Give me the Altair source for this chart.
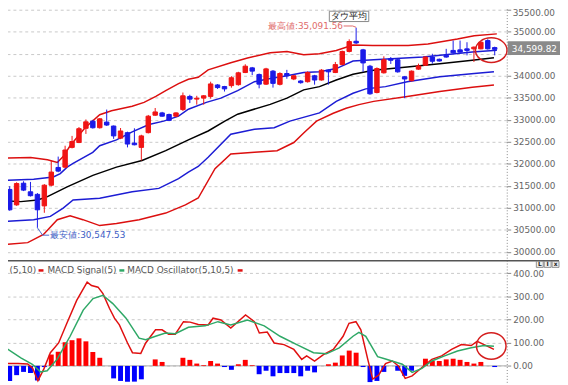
import altair as alt
import pandas as pd

# ---------------- price candles (Dow average, daily) ----------------
OPEN = [31419, 31068, 31560, 31365, 31307, 31045, 31515, 31918, 31925, 32373,
        32484, 32807, 32970, 32820, 32948, 32858, 32583, 32708, 32471, 32373,
        32708, 33104, 33156, 33120, 33082, 33232, 33530, 33470, 33492, 33530,
        33791, 33755, 33776, 33798, 34073, 34179, 34029, 33809, 34105, 33805,
        34051, 33926, 33881, 33865, 34000, 33903, 34127, 34073, 34253, 34552,
        34783, 34588, 34217, 33619, 34067, 34387, 34364, 33977, 33888, 34150,
        34239, 34425, 34373, 34463, 34575, 34588, 34611, 34611, 34611, 34799,
        34640]
HIGH = [31493, 31582, 31605, 31589, 31336, 31540, 32075, 32164, 32411, 32634,
        32836, 33008, 33000, 33040, 33232, 32870, 32813, 32730, 32807, 32660,
        33110, 33268, 33180, 33140, 33170, 33619, 33568, 33545, 33560, 33865,
        33810, 33770, 33990, 34090, 34261, 34200, 34050, 34180, 34130, 34080,
        34134, 34020, 33900, 34100, 34020, 34150, 34145, 34313, 34570, 34828,
        35091.56, 34610, 34246, 34190, 34441, 34425, 34380, 33990, 34120, 34275,
        34440, 34499, 34390, 34611, 34799, 34799, 34761, 34665, 34780, 34830,
        34660]
LOW = [30934, 31046, 31381, 31258, 30547.53, 30889, 31490, 31810, 31900, 32350,
       32470, 32679, 32800, 32800, 32860, 32567, 32560, 32373, 32420, 32075,
       32690, 33090, 33070, 32970, 33060, 33200, 33380, 33344, 33344, 33480,
       33700, 33642, 33730, 33775, 34060, 34015, 33715, 33790, 33731, 33780,
       33932, 33900, 33820, 33845, 33798, 33890, 33798, 34060, 34240, 34530,
       34720, 34089, 33568, 33600, 34050, 34268, 34070, 33492, 33870, 34135,
       34225, 34275, 34320, 34410, 34505, 34520, 34463, 34313, 34600, 34595,
       34463]
CLOSE = [30956, 31553, 31403, 31276, 30956, 31515, 31813, 31835, 32314, 32507,
         32798, 32954, 32820, 33022, 32881, 32634, 32746, 32449, 32433, 32634,
         33082, 33178, 33082, 32986, 33156, 33545, 33469, 33490, 33545, 33814,
         33731, 33702, 33955, 34067, 34217, 34105, 33809, 34156, 33827, 34051,
         34000, 34000, 33843, 34073, 33903, 34127, 34089, 34253, 34552, 34776,
         34745, 34291, 33590, 34163, 34364, 34351, 34089, 33926, 34105, 34223,
         34425, 34329, 34335, 34425, 34521, 34537, 34575, 34649, 34761, 34611,
         34599.82]

# ---------------- Bollinger bands / moving average (read at sample positions) ----------------
UP2_POS = [-0.38, 3.03, 5.45, 6.87, 7.72, 8.72, 10.85, 12.99, 14.69, 17.68, 19.39, 21.09,
           22.52, 24.37, 25.79, 27.21, 28.64, 31.91, 34.32, 37.6, 40.02, 42.43, 44.71,
           47.13, 49.55, 52.39, 57.51, 60.36, 64.62, 67.04, 70.31]
UP2_VAL = [32131, 32142, 32091, 32030, 32164, 32411, 32813, 33116, 33205, 33306, 33395, 33530,
           33664, 33821, 33921, 33966, 34134, 34297, 34402, 34521, 34552, 34476, 34499,
           34575, 34700, 34687, 34687, 34722, 34834, 34910, 34951]
UP1_POS = [-0.38, 3.46, 6.3, 7.3, 8.29, 9.15, 11.99, 12.99, 15.41, 17.68, 20.1, 22.23, 24.37,
           25.79, 28.38, 30.48, 32.9, 35.32, 37.6, 40.02, 42.43, 44.71, 47.13, 49.55, 52.53,
           59.64, 66.76, 70.31]
UP1_VAL = [31627, 31650, 31701, 31777, 31925, 32008, 32261, 32411, 32545, 32724, 32892, 32970,
           33082, 33239, 33395, 33492, 33664, 33865, 33939, 34000, 34073, 34089, 34163, 34335,
           34364, 34425, 34537, 34581]
MID_POS = [-0.38, 1.61, 4.03, 5.45, 8.29, 12.0, 15.41, 19.1, 22.52, 25.79, 28.64, 31.05, 32.9,
           37.6, 40.02, 42.43, 44.71, 47.13, 49.55, 52.53, 57.37, 62.06, 66.76, 69.89]
MID_VAL = [31157, 31142, 31180, 31254, 31477, 31739, 31925, 32075, 32299, 32545, 32746, 32970,
           33127, 33351, 33492, 33680, 33753, 33903, 34033, 34127, 34201, 34275, 34351, 34409]
LO1_POS = [-0.38, 3.46, 5.87, 7.72, 9.15, 12.99, 17.68, 21.52, 24.37, 25.79, 27.21, 28.64,
           31.91, 35.32, 38.17, 40.44, 44.71, 47.13, 49.55, 51.39, 54.24, 57.37, 62.06,
           67.04, 69.89]
LO1_VAL = [30694, 30732, 30806, 30994, 31180, 31218, 31365, 31442, 31665, 31813, 31941, 32149,
           32672, 32784, 32820, 32970, 33156, 33418, 33603, 33702, 33753, 33865, 33977,
           34051, 34089]
LO2_POS = [-0.38, 2.6, 4.88, 6.87, 8.72, 10.57, 12.99, 15.41, 18.68, 22.52, 25.36, 27.21,
           29.63, 31.91, 35.32, 38.59, 41.01, 42.43, 44.28, 46.7, 48.55, 50.4, 52.53, 57.37,
           62.06, 66.76, 69.89]
LO2_VAL = [30173, 30211, 30396, 30732, 30822, 30732, 30598, 30643, 30732, 30882, 31068, 31224,
           31889, 32225, 32261, 32299, 32484, 32702, 32970, 33149, 33261, 33344, 33418, 33530,
           33642, 33738, 33791]

# ---------------- MACD panel ----------------
MACD_POS = [-0.38, 1.18, 2.6, 3.31, 4.07, 4.92, 5.87, 7.06, 8.25, 9.67, 11.18, 11.81, 12.75,
            13.46, 14.41, 15.12, 15.83, 17.01, 17.72, 18.92, 19.63, 21.05, 21.99, 22.94, 23.9,
            25.08, 26.03, 27.21, 28.64, 29.35, 30.48, 31.91, 34.04, 35.32, 36.03, 37.17, 38.17,
            39.59, 41.01, 42.15, 42.86, 44.0, 45.28, 46.7, 48.12, 48.97, 49.97, 50.68, 51.68,
            52.39, 53.24, 54.24, 55.23, 56.09, 57.08, 58.08, 59.5, 60.92, 62.34, 63.77, 65.19,
            66.61, 67.46, 68.46, 69.89]
MACD_VAL = [10, 10, 8, -10, -64, -14, 57, 99, 184, 283, 362, 347, 340, 312, 248, 206, 177, 99,
            57, 54, 99, 156, 156, 137, 137, 191, 189, 179, 177, 206, 198, 163, 220, 191, 142,
            146, 99, 92, 71, 28, 43, 21, 49, 71, 128, 184, 191, 156, 28, -57, -40, 10, 21, 0,
            -54, -43, -7, 28, 43, 71, 92, 88, 106, 92, 71]
SIG_POS = [-0.38, 1.61, 3.27, 4.45, 5.41, 6.83, 8.72, 10.61, 12.03, 13.46, 14.88, 16.79, 18.68,
           19.63, 21.05, 22.48, 23.9, 25.79, 28.21, 30.06, 31.91, 34.32, 36.74, 39.02, 41.44,
           43.85, 45.71, 47.56, 49.55, 50.4, 51.39, 53.1, 54.24, 56.66, 58.08, 59.5, 60.92,
           62.77, 64.62, 66.61, 68.46, 69.89]
SIG_VAL = [74, 35, 7, -26, -21, 28, 128, 241, 291, 305, 269, 206, 120, 113, 128, 142, 139, 167,
           173, 191, 177, 198, 173, 128, 92, 57, 52, 78, 128, 145, 128, 40, 30, 7, -28, -11, 21,
           43, 64, 78, 88, 85]
OSC = [-65, -40, -26, -31, -63, -5, 49, 61, 102, 111,
       119, 106, 60, 35, 0, -54, -65, -68, -68, -58,
       0, 28, 17, 0, 0, 35, 26, 10, 3, 21,
       10, -5, -17, 7, 26, 3, -36, -21, -45, -31,
       -31, -31, -45, -21, -28, 0, 7, 14, 45, 66,
       57, -5, -70, -65, -26, 0, -21, -43, -21, 0,
       31, 21, 21, 28, 31, 26, 17, 10, 17, 0,
       -5]

PRICE_TICKS = [30000, 30500, 31000, 31500, 32000, 32500, 33000, 33500, 34000, 34500, 35000, 35500]
MACD_TICKS = [0, 100, 200, 300, 400]
LEGEND_LABELS = ["(5,10)", "MACD Signal(5)", "MACD Oscillator(5,10,5)"]

RED = "#f01414"
BLUE = "#1a1ae8"
LINE_RED = "#dc0f0f"
LINE_BLUE = "#1c1cd4"
GREEN = "#2ea866"
FONT = "DejaVu Sans"
LABEL_COLOR = "#666666"

XD = [-1.24, 71.74]
YD = [29859, 35656]
MD = [-71, 457]

price_axis = alt.Axis(orient="right", values=PRICE_TICKS, format=".2f",
                      labelExpr="(datum.value == 34500 || datum.value == 35500) ? '' : format(datum.value, '.2f')",
                      grid=True, gridDash=[3, 3], gridColor="#c8c8c8", gridWidth=1,
                      domainDash=[1, 2], domainColor="#888888", tickColor="#888888", tickSize=4,
                      labelFont=FONT, labelFontSize=9, labelColor=LABEL_COLOR, labelPadding=2,
                      title=None)
macd_axis = alt.Axis(orient="right", values=MACD_TICKS, format=".2f",
                     grid=True, gridDash=[3, 3], gridColor="#c8c8c8", gridWidth=1,
                     domainDash=[1, 2], domainColor="#888888", tickColor="#888888", tickSize=4,
                     labelFont=FONT, labelFontSize=9, labelColor=LABEL_COLOR, labelPadding=2,
                     title=None)


def X(f="pos"):
    return alt.X(f + ":Q", scale=alt.Scale(domain=XD, nice=False, zero=False, padding=0), axis=None)


def Y(f="v"):
    return alt.Y(f + ":Q", scale=alt.Scale(domain=YD, nice=False, zero=False, padding=0), axis=price_axis)


def M(f="v"):
    return alt.Y(f + ":Q", scale=alt.Scale(domain=MD, nice=False, zero=False, padding=0), axis=macd_axis)


n = len(OPEN)
cdf = pd.DataFrame({"pos": list(range(n)), "open": OPEN, "high": HIGH, "low": LOW, "close": CLOSE})
cdf["col"] = [RED if c >= o else BLUE for o, c in zip(OPEN, CLOSE)]


def band(pos, val, color):
    d = pd.DataFrame({"pos": pos, "v": val})
    return alt.Chart(d).mark_line(color=color, strokeWidth=1.5).encode(x=X(), y=Y())


def pt(pos, v, **extra):
    d = {"pos": [pos], "v": [v]}
    d.update({k: [val] for k, val in extra.items()})
    return pd.DataFrame(d)


one = pd.DataFrame({"a": [0]})

wicks = alt.Chart(cdf).mark_rule(strokeWidth=1).encode(
    x=X(), y=Y("low"), y2="high:Q", color=alt.Color("col:N", scale=None))
bodies = alt.Chart(cdf).mark_bar(size=4.5, strokeWidth=1).encode(
    x=X(), y=Y("open"), y2="close:Q",
    color=alt.Color("col:N", scale=None), stroke=alt.Stroke("col:N", scale=None))

hi_line = alt.Chart(pd.DataFrame({"pos": [48.2, 49.5, 50.0], "v": [35130, 35130, 35100]})).mark_line(
    color="#e06a6a", strokeWidth=1).encode(x=X(), y=Y())
hi_text = alt.Chart(pt(48.1, 35130, t="最高値:35,091.56")).mark_text(
    align="right", baseline="middle", font=FONT, fontSize=9, color="#e06a6a").encode(
    x=X(), y=Y(), text="t:N")
lo_line = alt.Chart(pd.DataFrame({"pos": [4.0, 4.75, 5.7], "v": [30547.53, 30380, 30380]})).mark_line(
    color="#4a6ad0", strokeWidth=1).encode(x=X(), y=Y())
lo_text = alt.Chart(pt(5.85, 30374, t="最安値:30,547.53")).mark_text(
    align="left", baseline="middle", font=FONT, fontSize=9, color="#3c5cc4").encode(
    x=X(), y=Y(), text="t:N")
top_label = alt.Chart(pt(0, 35500, t="35500.00")).mark_text(
    align="left", baseline="top", font=FONT, fontSize=9, color=LABEL_COLOR, dy=-1).encode(
    x=alt.value(519), y=Y(), text="t:N")

ELLIPSE1 = "M-1,0A1,0.78,0,1,1,1,0A1,0.78,0,1,1,-1,0Z"
ELLIPSE2 = "M-1,0A1,0.9,0,1,1,1,0A1,0.9,0,1,1,-1,0Z"
circ1 = alt.Chart(pt(69.5, 34581)).mark_point(shape=ELLIPSE1, size=1024, filled=False,
                                              stroke="#d41e1e", strokeWidth=1.5, opacity=1).encode(
    x=X(), y=Y())

name_box = alt.Chart(one).mark_rect(fill="white", stroke="#888888", strokeWidth=1).encode(
    x=alt.value(333), x2=alt.value(373), y=alt.value(8.5), y2=alt.value(19))
name_text = alt.Chart(one).mark_text(text="ダウ平均", font=FONT, fontSize=9.5, color="#222222",
                                     align="center", baseline="middle").encode(
    x=alt.value(353), y=alt.value(13.8))
last_box = alt.Chart(one).mark_rect(fill="#8a8a8a").encode(
    x=alt.value(514), x2=alt.value(567), y=alt.value(39), y2=alt.value(53))
last_text = alt.Chart(one).mark_text(text="34,599.82", font=FONT, fontSize=9, color="white",
                                     align="center", baseline="middle").encode(
    x=alt.value(541), y=alt.value(46.5))

top = alt.layer(
    band(LO2_POS, LO2_VAL, LINE_RED),
    band(LO1_POS, LO1_VAL, LINE_BLUE),
    band(MID_POS, MID_VAL, "#000000"),
    band(UP1_POS, UP1_VAL, LINE_BLUE),
    band(UP2_POS, UP2_VAL, LINE_RED),
    wicks, bodies,
    hi_line, hi_text, lo_line, lo_text, circ1, top_label,
    name_box, name_text, last_box, last_text,
).properties(width=513, height=259)

# ---------------- MACD panel ----------------
odf = pd.DataFrame({"pos": list(range(n)), "osc": OSC, "zero": [0] * n})
odf["col"] = ["#ff0000" if v >= 0 else "#0000ff" for v in OSC]
mdf = pd.DataFrame({"pos": MACD_POS, "v": MACD_VAL})
sdf = pd.DataFrame({"pos": SIG_POS, "v": SIG_VAL})

zero = alt.Chart(pd.DataFrame({"v": [0]})).mark_rule(color="#aaaaaa", strokeWidth=1).encode(y=M())
osc_bars = alt.Chart(odf).mark_bar(size=5).encode(
    x=X(), y=M("osc"), y2="zero:Q", color=alt.Color("col:N", scale=None))
macd_line = alt.Chart(mdf).mark_line(color="#e01010", strokeWidth=1.5).encode(x=X(), y=M())
sig_line = alt.Chart(sdf).mark_line(color=GREEN, strokeWidth=1.5).encode(x=X(), y=M())
circ2 = alt.Chart(pt(69.5, 86)).mark_point(shape=ELLIPSE2, size=900, filled=False,
                                           stroke="#d41e1e", strokeWidth=1.5, opacity=1).encode(
    x=X(), y=M())

leg = []
for txt, xp in zip(LEGEND_LABELS, [8.5, 47, 128]):
    leg.append(alt.Chart(one).mark_text(text=txt, font=FONT, fontSize=9, color="#555555",
                                        align="left", baseline="middle").encode(
        x=alt.value(xp), y=alt.value(10)))
for col, xp in zip(["#e01010", GREEN, "#e01010"], [38, 120, 240]):
    leg.append(alt.Chart(one).mark_rule(color=col, strokeWidth=2.5).encode(
        x=alt.value(xp), x2=alt.value(xp + 5), y=alt.value(10.5)))

btns = []
for lab, xp in zip(["L", "I", "x"], [543, 551, 559]):
    btns.append(alt.Chart(one).mark_rect(fill="#eeeeee", stroke="#777777", strokeWidth=0.8).encode(
        x=alt.value(xp), x2=alt.value(xp + 7), y=alt.value(1.2), y2=alt.value(7.4)))
    btns.append(alt.Chart(one).mark_text(text=lab, font=FONT, fontSize=6, fontWeight="bold",
                                         color="#222222", align="center", baseline="middle").encode(
        x=alt.value(xp + 3.5), y=alt.value(4.4)))

separator = alt.Chart(one).mark_rule(color="#555555", strokeWidth=1.5).encode(
    x=alt.value(0), x2=alt.value(566), y=alt.value(0.75))

bottom = alt.layer(
    zero, osc_bars, macd_line, sig_line, circ2, *leg, separator, *btns
).properties(width=513, height=124)

chart = alt.vconcat(top, bottom, spacing=2).properties(
    padding={"left": -8, "top": -8, "right": 0, "bottom": 0}
).configure_view(stroke=None)

chart.save("out.html", embed_options={"renderer": "svg", "actions": False})
